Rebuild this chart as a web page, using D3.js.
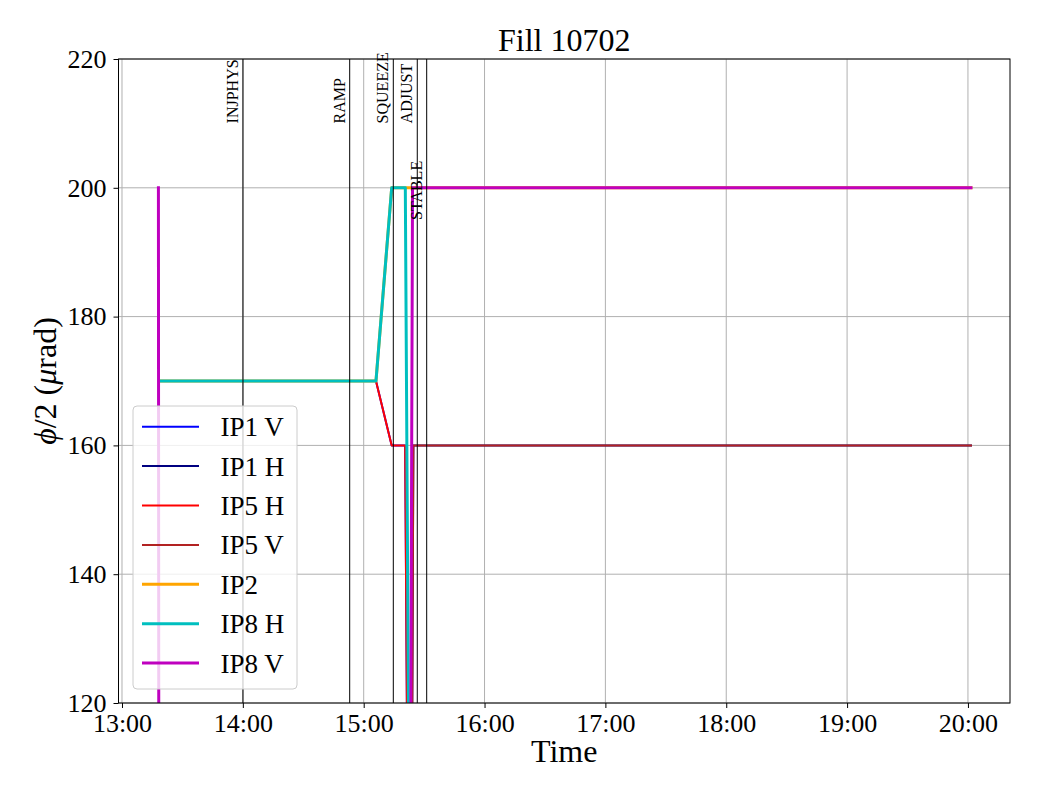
<!DOCTYPE html>
<html>
<head>
<meta charset="utf-8">
<script src="https://cdn.jsdelivr.net/npm/d3@7"></script>
<style>
  html, body { margin: 0; padding: 0; background: #fff; }
  svg { display: block; }
  svg text { font-family: "Liberation Serif", "Times New Roman", serif !important; }
</style>
</head>
<body>
<svg id="chart" width="1040" height="800"></svg>
<script>
// ---------------- data ----------------
const seriesNames = ["IP1 V", "IP1 H", "IP5 H", "IP5 V", "IP2", "IP8 H", "IP8 V"];
const seriesColors = ["#0000ff", "#000080", "#ff0000", "#b22222", "#ffa500", "#00bfbf", "#bf00bf"];
const seriesWidths = [2, 2, 2, 2, 3, 3, 3];

const ip1vTimes = ["13:19:30", "15:06:06", "15:13:54", "15:20:35", "15:24:00", "20:01:30"];
const ip1vValues = [170, 170, 160, 160, 0, 0];
const ip1hTimes = ["13:19:30", "15:22:30", "15:24:40", "20:01:30"];
const ip1hValues = [0, 0, 160, 160];
const ip5hTimes = ["13:19:30", "15:06:06", "15:13:54", "15:20:35", "15:24:00", "20:01:30"];
const ip5hValues = [170, 170, 160, 160, 0, 0];
const ip5vTimes = ["13:19:30", "15:22:30", "15:24:40", "20:01:30"];
const ip5vValues = [0, 0, 160, 160];
const ip2Times = ["13:19:30", "15:06:06", "15:13:54", "20:01:30"];
const ip2Values = [170, 170, 200, 200];
const ip8hTimes = ["13:19:30", "15:06:06", "15:13:54", "15:20:40", "15:24:30", "20:01:30"];
const ip8hValues = [170, 170, 200, 200, 0, 0];
const ip8vTimes = ["13:18:05", "13:18:30", "15:22:10", "15:24:15", "20:01:30"];
const ip8vValues = [200, 0, 0, 200, 200];

const eventNames = ["INJPHYS", "RAMP", "SQUEEZE", "ADJUST", "STABLE"];
const eventTimes = ["14:00:04", "14:53:03", "15:14:42", "15:26:36", "15:31:17"];
const eventLabelY = [210, 210, 210, 210, 195];

const xTickLabels = ["13:00", "14:00", "15:00", "16:00", "17:00", "18:00", "19:00", "20:00"];
const yTickValues = [120, 140, 160, 180, 200, 220];
const xDomain = ["12:58:16", "20:20:53"];
const yDomain = [120, 220];

const titleText = "Fill 10702";
const xLabelText = "Time";

// ---------------- setup ----------------
const parse = d3.timeParse("%H:%M:%S");
const parseHM = d3.timeParse("%H:%M");
const fmt = d3.timeFormat("%H:%M");

const seriesTimes = [ip1vTimes, ip1hTimes, ip5hTimes, ip5vTimes, ip2Times, ip8hTimes, ip8vTimes];
const seriesValues = [ip1vValues, ip1hValues, ip5hValues, ip5vValues, ip2Values, ip8hValues, ip8vValues];

const pL = 118.5, pR = 1010, pT = 59, pB = 703;
const svg = d3.select("#chart");

const x = d3.scaleTime().domain(xDomain.map(parse)).range([pL, pR]);
const y = d3.scaleLinear().domain(yDomain).range([pB, pT]);

svg.append("defs").append("clipPath").attr("id", "clip")
  .append("rect").attr("x", pL).attr("y", pT).attr("width", pR - pL).attr("height", pB - pT);

// grid
const xTicks = xTickLabels.map(parseHM);
const grid = svg.append("g");
grid.selectAll("line.gx").data(xTicks).join("line").attr("class", "gx")
  .attr("x1", d => x(d)).attr("x2", d => x(d)).attr("y1", pT).attr("y2", pB)
  .attr("stroke", "#b0b0b0").attr("stroke-width", 1);
grid.selectAll("line.gy").data(yTickValues).join("line").attr("class", "gy")
  .attr("x1", pL).attr("x2", pR).attr("y1", d => y(d)).attr("y2", d => y(d))
  .attr("stroke", "#b0b0b0").attr("stroke-width", 1);

// series
const line = d3.line().x(d => x(d.t)).y(d => y(d.v));
const plot = svg.append("g").attr("clip-path", "url(#clip)");
seriesNames.forEach((name, i) => {
  const pts = seriesTimes[i].map((t, j) => ({ t: parse(t), v: seriesValues[i][j] }));
  plot.append("path").datum(pts)
    .attr("d", line)
    .attr("fill", "none")
    .attr("stroke", seriesColors[i])
    .attr("stroke-width", seriesWidths[i])
    .attr("stroke-linejoin", "round")
    .attr("stroke-linecap", "square");
});

// events
const ev = svg.append("g");
eventNames.forEach((name, i) => {
  const ex = x(parse(eventTimes[i]));
  ev.append("line").attr("x1", ex).attr("x2", ex).attr("y1", pT).attr("y2", pB)
    .attr("stroke", "#000").attr("stroke-width", 1);
  ev.append("text")
    .attr("transform", `translate(${ex - 5},${y(eventLabelY[i])}) rotate(-90)`)
    .attr("font-size", 16).attr("fill", "#000")
    .text(name);
});

// axes
const xAxis = d3.axisBottom(x).tickValues(xTicks).tickFormat(fmt).tickSize(5).tickPadding(6);
const gx = svg.append("g").attr("transform", `translate(0,${pB})`).call(xAxis);
gx.select(".domain").remove();
gx.selectAll(".tick line").attr("stroke", "#000");
gx.selectAll(".tick text").attr("font-size", 26).attr("fill", "#000");

const yAxis = d3.axisLeft(y).tickValues(yTickValues).tickFormat(d3.format("d")).tickSize(5).tickPadding(7);
const gy = svg.append("g").attr("transform", `translate(${pL},0)`).call(yAxis);
gy.select(".domain").remove();
gy.selectAll(".tick line").attr("stroke", "#000");
gy.selectAll(".tick text").attr("font-size", 26).attr("fill", "#000");

// spines
svg.append("rect").attr("x", pL).attr("y", pT).attr("width", pR - pL).attr("height", pB - pT)
  .attr("fill", "none").attr("stroke", "#000").attr("stroke-width", 1);

// title and labels
svg.append("text").attr("x", (pL + pR) / 2).attr("y", 51).attr("text-anchor", "middle")
  .attr("font-size", 32).text(titleText);
svg.append("text").attr("x", (pL + pR) / 2).attr("y", 762).attr("text-anchor", "middle")
  .attr("font-size", 32).text(xLabelText);
const yl = svg.append("text")
  .attr("transform", `translate(56,${(pT + pB) / 2}) rotate(-90)`)
  .attr("text-anchor", "middle").attr("font-size", 32);
yl.append("tspan").attr("font-style", "italic").text("ϕ");
yl.append("tspan").text("/2 (");
yl.append("tspan").attr("font-style", "italic").text("μ");
yl.append("tspan").text("rad)");

// legend
const lg = svg.append("g");
lg.append("rect").attr("x", 133).attr("y", 406).attr("width", 164).attr("height", 283)
  .attr("rx", 4).attr("fill", "#fff").attr("fill-opacity", 0.8)
  .attr("stroke", "#cccccc").attr("stroke-width", 1);
seriesNames.forEach((name, i) => {
  const cy = 426.7 + i * 39.4;
  lg.append("line").attr("x1", 142).attr("x2", 199).attr("y1", cy).attr("y2", cy)
    .attr("stroke", seriesColors[i]).attr("stroke-width", seriesWidths[i]);
  lg.append("text").attr("x", 220.5).attr("y", cy + 9.5).attr("font-size", 27).text(name);
});
</script>
</body>
</html>
